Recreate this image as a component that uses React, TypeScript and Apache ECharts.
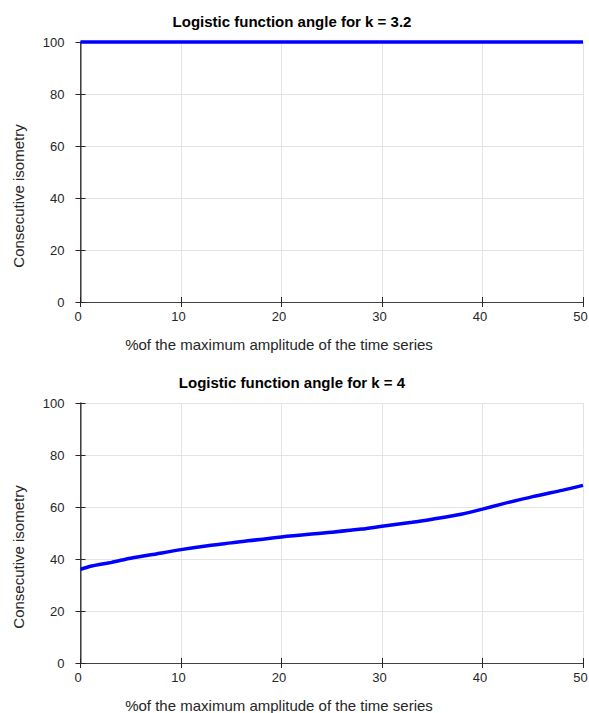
import React, { useEffect, useRef } from "react";
import * as echarts from "echarts";

const titles = ["Logistic function angle for k = 3.2", "Logistic function angle for k = 4"];
const xName = "%of the maximum amplitude of the time series";
const yName = "Consecutive isometry";

const topX = [0, 10, 20, 30, 40, 50];
const topY = [100, 100, 100, 100, 100, 100];

const botX = [0, 1, 2, 3, 4, 5, 7, 10, 13, 15, 20, 25, 28, 30, 33, 35, 38, 40, 42, 45, 48, 50];
const botY = [36, 37.2, 38, 38.6, 39.5, 40.3, 41.6, 43.6, 45.3, 46.2, 48.5, 50.3, 51.5, 52.6, 54.1, 55.3, 57.3, 59.2, 61.2, 64.0, 66.5, 68.3];

const FONT = "Liberation Sans, Arial, Helvetica, sans-serif";
const TXT = "#262626";

export default function App() {
  const ref = useRef<HTMLDivElement>(null);
  useEffect(() => {
    document.body.style.margin = "0";
    const chart = echarts.init(ref.current!, null, { renderer: "svg" });
    const offsets = [0, 361];
    const grids = offsets.map((o) => ({
      left: 80.5, right: 6, top: 42 + o, height: 260, outerBoundsMode: "none", containLabel: false,
    }));
    const xAxes: any[] = [];
    const yAxes: any[] = [];
    [0, 1].forEach((g) => {
      xAxes.push({
        type: "value", gridIndex: g, min: 0, max: 50, interval: 10, position: "bottom",
        axisLine: { show: true, lineStyle: { color: "#262626", width: 1 } },
        axisTick: { show: true, inside: true, length: 5, lineStyle: { color: "#262626" } },
        axisLabel: { color: TXT, fontSize: 13, fontFamily: FONT, margin: 8, padding: [0, 5, 0, 0] },
        splitLine: { show: true, lineStyle: { color: "#e3e3e3", width: 1 } },
      });
      xAxes.push({
        type: "value", gridIndex: g, min: 0, max: 50, interval: 10, position: "top",
        axisLine: { show: true, lineStyle: { color: "#404040", width: 1 } },
        axisTick: { show: true, inside: true, length: 5, lineStyle: { color: "#262626" } },
        axisLabel: { show: false }, splitLine: { show: false },
      });
      yAxes.push({
        type: "value", gridIndex: g, min: 0, max: 100, interval: 20, position: "left",
        axisLine: { show: true, lineStyle: { color: "#707070", width: 1.5 } },
        axisTick: { show: true, inside: true, length: 5, lineStyle: { color: "#262626" } },
        axisLabel: { color: TXT, fontSize: 13, fontFamily: FONT, margin: 16, padding: [0, 0, 7, 0] },
        splitLine: { show: true, lineStyle: { color: "#e3e3e3", width: 1 } },
      });
      yAxes.push({
        type: "value", gridIndex: g, min: 0, max: 100, interval: 20, position: "right",
        axisLine: { show: true, lineStyle: { color: "#404040", width: 1 } },
        axisTick: { show: true, inside: true, length: 5, lineStyle: { color: "#262626" } },
        axisLabel: { show: false }, splitLine: { show: false },
      });
    });
    const graphics: any[] = [];
    offsets.forEach((o, i) => {
      graphics.push({
        type: "text", x: 292, y: 21 + o,
        style: { text: titles[i], fill: "#000", font: `bold 15px ${FONT}`, align: "center", verticalAlign: "middle" },
      });
      graphics.push({
        type: "text", x: 279, y: 344 + o,
        style: { text: xName, fill: TXT, font: `15px ${FONT}`, align: "center", verticalAlign: "middle" },
      });
      graphics.push({
        type: "text", x: 18, y: 196 + o, rotation: Math.PI / 2,
        style: { text: yName, fill: TXT, font: `15px ${FONT}`, align: "center", verticalAlign: "middle" },
      });
    });
    chart.setOption({
      animation: false,
      backgroundColor: "#ffffff",
      grid: grids,
      xAxis: xAxes,
      yAxis: yAxes,
      graphic: graphics,
      series: [
        {
          type: "line", xAxisIndex: 0, yAxisIndex: 0, clip: false, symbol: "none",
          data: topX.map((x, i) => [x, topY[i]]),
          lineStyle: { color: "#0000ff", width: 3.5 },
        },
        {
          type: "line", xAxisIndex: 2, yAxisIndex: 2, clip: false, symbol: "none", smooth: 0.3,
          data: botX.map((x, i) => [x, botY[i]]),
          lineStyle: { color: "#0000ff", width: 3.5 },
        },
      ],
    });
    return () => chart.dispose();
  }, []);
  return <div ref={ref} style={{ width: 589, height: 713, position: "absolute", left: 0, top: 0 }} />;
}
